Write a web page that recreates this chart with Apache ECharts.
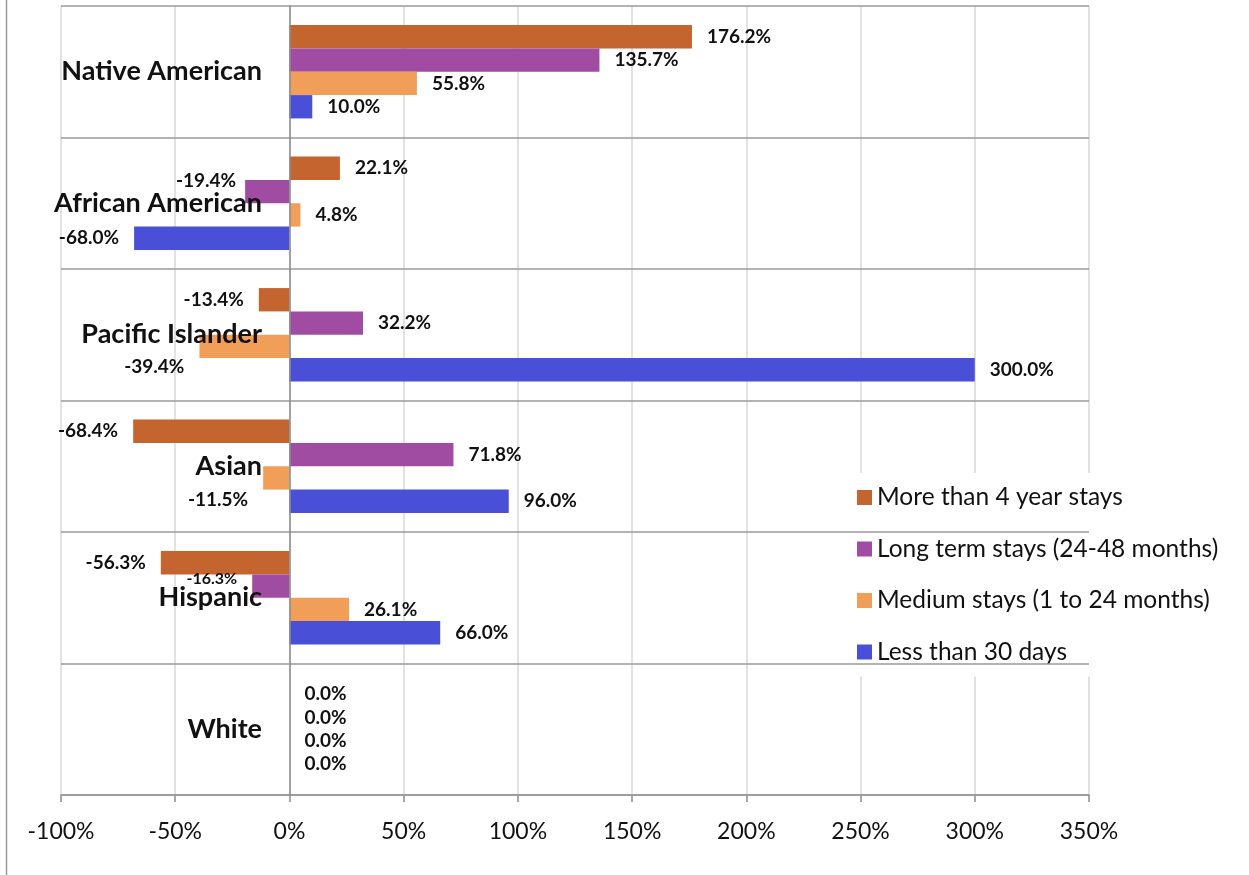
<!DOCTYPE html>
<html>
<head>
<meta charset="utf-8">
<script src="https://cdn.jsdelivr.net/npm/echarts@6/dist/echarts.min.js"></script>
<style>
html,body{margin:0;padding:0;background:#fff;}
#main{width:1249px;height:875px;}
</style>
</head>
<body>
<div id="main"></div>
<script>
var groups = ['Native American', 'African American', 'Pacific Islander', 'Asian', 'Hispanic', 'White'];
var seriesNames = ['More than 4 year stays', 'Long term stays (24-48 months)', 'Medium stays (1 to 24 months)', 'Less than 30 days'];
var over4Years = [176.2, 22.1, -13.4, -68.4, -56.3, 0];
var longTerm = [135.7, -19.4, 32.2, 71.8, -16.3, 0];
var medium = [55.8, 4.8, -39.4, -11.5, 26.1, 0];
var under30Days = [10.0, -68.0, 300.0, 96.0, 66.0, 0];
var xTicks = [-100, -50, 0, 50, 100, 150, 200, 250, 300, 350];

var colors = ['#c4652f', '#a04ca3', '#f09e58', '#4a4fd8'];
var font = 'Lato, "Open Sans", sans-serif';

// excel nudged some labels to clear the category names
var labelOffsets = {
	'1-1': [6, -11],
	'1-4': [0, -7],
	'2-2': [0, 20],
	'2-3': [0, 22]
};

function makeData(arr, sIdx) {
	var out = [];
	for (var i = 0; i < arr.length; i++) {
		var d = {value: arr[i], label: {position: arr[i] < 0 ? 'left' : 'right'}};
		var off = labelOffsets[sIdx + '-' + i];
		if (off) d.label.offset = off;
		if (sIdx == 1 && i == 4) d.label.fontSize = 16;
		out.push(d);
	}
	return out;
}

var allData = [over4Years, longTerm, medium, under30Days];
var series = [];
for (var s = 0; s < allData.length; s++) {
	series.push({
		name: seriesNames[s],
		type: 'bar',
		data: makeData(allData[s], s),
		barGap: '0%',
		barCategoryGap: '29%',
		itemStyle: {color: colors[s]},
		label: {
			show: true,
			distance: 15,
			fontFamily: font,
			fontSize: 19,
			fontWeight: 'bold',
			color: '#111',
			formatter: function(p){ return p.value.toFixed(1) + '%'; }
		}
	});
}

var myChart = echarts.init(document.getElementById('main'));
var option = {
	backgroundColor: '#fff',
	animation: false,
	color: colors,
	grid: {left: 61, right: 160, top: 6, bottom: 80, containLabel: false, outerBoundsMode: 'none'},
	legend: {
		orient: 'vertical',
		left: 822,
		top: 473,
		padding: [11, 14, 11, 35],
		backgroundColor: '#fff',
		itemWidth: 15,
		itemHeight: 15,
		itemGap: 24.5,
		icon: 'rect',
		data: seriesNames,
		textStyle: {fontFamily: font, fontSize: 24.5, color: '#111', lineHeight: 27}
	},
	xAxis: {
		type: 'value',
		min: -100,
		max: 350,
		interval: 50,
		axisLine: {show: true, lineStyle: {color: '#8c8c8c', width: 1.5}},
		axisTick: {show: true, length: 7, lineStyle: {color: '#8c8c8c', width: 1.5}},
		axisLabel: {
			margin: 25,
			fontFamily: font,
			fontSize: 23,
			color: '#111',
			formatter: function(v){ return v + '%'; }
		},
		splitLine: {show: true, lineStyle: {color: '#d9d9d9', width: 1.5}}
	},
	yAxis: {
		type: 'category',
		data: groups,
		inverse: true,
		z: 10,
		axisLine: {show: true, onZero: true, lineStyle: {color: '#8c8c8c', width: 1.5}},
		axisTick: {show: false},
		axisLabel: {
			// labels sit just left of the 0% line, not at the grid edge
			margin: -201,
			fontFamily: font,
			fontSize: 27,
			fontWeight: 'bold',
			color: '#111'
		},
		splitLine: {show: true, lineStyle: {color: '#9a9a9a', width: 1.5}}
	},
	graphic: [{
		type: 'line',
		shape: {x1: 6.5, y1: 0, x2: 6.5, y2: 875},
		style: {stroke: '#9a9a9a', lineWidth: 1.5}
	}],
	series: series
};
myChart.setOption(option);
window.addEventListener("resize", function () {
	myChart.resize();
});
</script>
</body>
</html>
